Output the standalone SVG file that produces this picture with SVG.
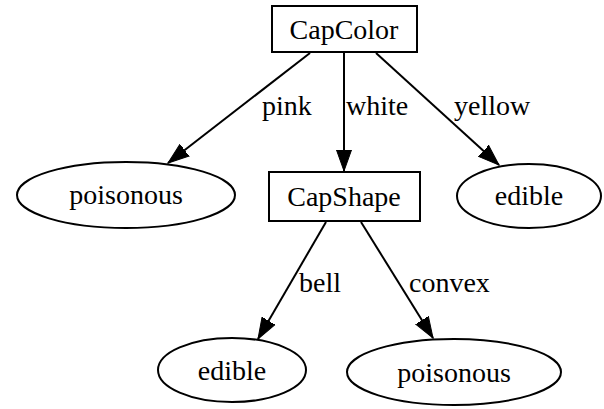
<svg xmlns="http://www.w3.org/2000/svg" width="604" height="409" viewBox="0 0 604 409">
<style>
.shape{fill:#fff;stroke:#000;stroke-width:2}
.edge{fill:none;stroke:#000;stroke-width:2}
text{font-family:"Liberation Serif","Times New Roman",serif;font-size:28px;fill:#000}
.c{text-anchor:middle}
</style>
<defs>
<marker id="ah" markerUnits="userSpaceOnUse" markerWidth="22" markerHeight="18" viewBox="0 0 22 18" refX="21" refY="9" orient="auto">
<path d="M0,1.5 L21,9 L0,16.5 Z" fill="#000" stroke="#000" stroke-width="1"/>
</marker>
</defs>
<rect width="604" height="409" fill="#fff"/>
<g id="edges">
<line class="edge" x1="310" y1="53" x2="168" y2="163" marker-end="url(#ah)"/>
<line class="edge" x1="344" y1="53" x2="344" y2="171" marker-end="url(#ah)"/>
<line class="edge" x1="376" y1="53" x2="499" y2="165" marker-end="url(#ah)"/>
<line class="edge" x1="326" y1="222" x2="258" y2="339" marker-end="url(#ah)"/>
<line class="edge" x1="361" y1="222" x2="433" y2="338" marker-end="url(#ah)"/>
<text x="262" y="115">pink</text>
<text x="346" y="115">white</text>
<text x="454" y="115">yellow</text>
<text x="299" y="292">bell</text>
<text x="409" y="292">convex</text>
</g>
<g id="capcolor">
<rect class="shape" x="272" y="6" width="145" height="46"/>
<text class="c" x="344" y="39">CapColor</text>
</g>
<g id="poisonous1">
<ellipse class="shape" cx="126" cy="195" rx="109" ry="33"/>
<text class="c" x="126" y="204">poisonous</text>
</g>
<g id="capshape">
<rect class="shape" x="269" y="172" width="151" height="49"/>
<text class="c" x="344" y="206">CapShape</text>
</g>
<g id="edible1">
<ellipse class="shape" cx="529" cy="196" rx="72" ry="32"/>
<text class="c" x="529" y="205">edible</text>
</g>
<g id="edible2">
<ellipse class="shape" cx="232" cy="370" rx="74" ry="32"/>
<text class="c" x="232" y="380">edible</text>
</g>
<g id="poisonous2">
<ellipse class="shape" cx="454" cy="372" rx="107" ry="33"/>
<text class="c" x="454" y="382">poisonous</text>
</g>
</svg>
